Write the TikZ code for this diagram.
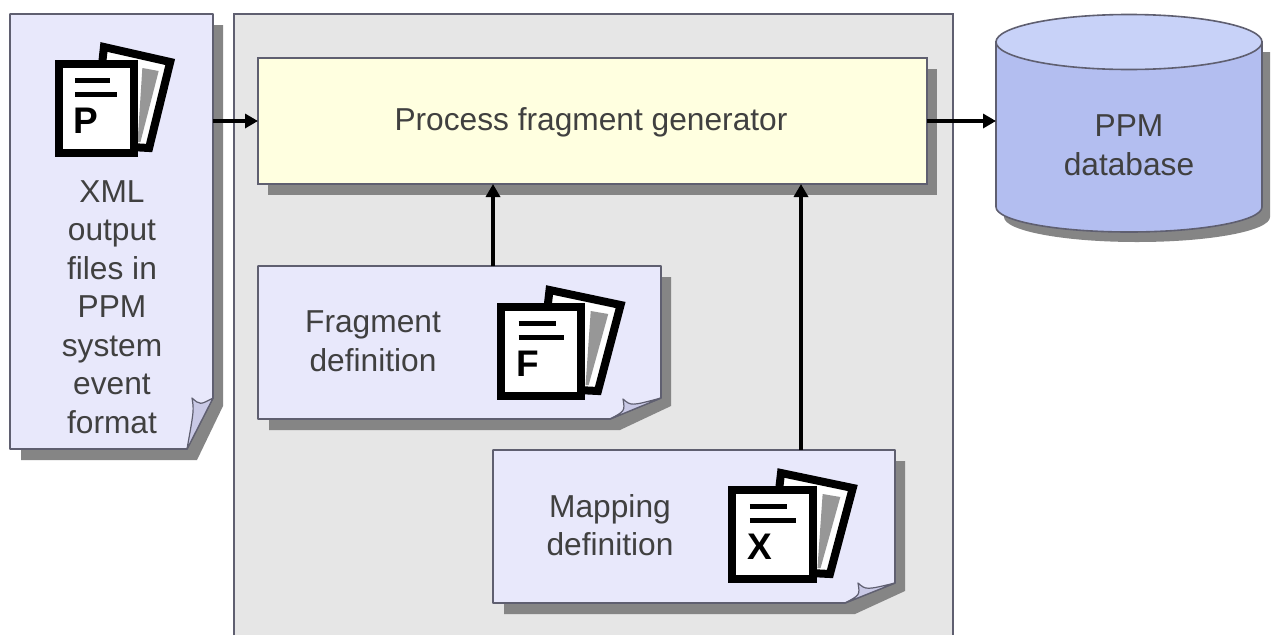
\documentclass[tikz,border=0pt]{standalone}
\usepackage{fontspec}
\setmainfont{Liberation Sans}
\usetikzlibrary{arrows.meta}
\definecolor{panelgray}{HTML}{E6E6E6}
\definecolor{lav}{HTML}{E8E8FB}
\definecolor{flapc}{HTML}{C9C9E6}
\definecolor{shade}{HTML}{858585}
\definecolor{edge}{HTML}{5F5F70}
\definecolor{genfill}{HTML}{FFFFE0}
\definecolor{cylside}{HTML}{B3BEF0}
\definecolor{cyltop}{HTML}{C8D2F8}
\definecolor{txt}{HTML}{404040}
\tikzset{
  anchorbox/.style={draw=none,fill=none,inner sep=0pt,outer sep=0pt},
  label/.style={anchor=center,align=center,text=txt,inner sep=0pt,
    font=\fontsize{31.7}{38.5}\selectfont},
  flow/.style={line width=3.7pt,-{Triangle[length=13pt,width=14pt]},black},
  paper/.style={fill=lav,draw=edge,line width=1.6pt,line join=round},
  flap/.style={fill=flapc,draw=edge,line width=1.2pt,line join=round},
  shadowfill/.style={fill=shade,draw=none},
  iconline/.style={black,line width=5pt},
  iconframe/.style={draw=black,line width=8pt,line join=miter}
}
% note paper: x1,y1,x2,y2, fold x, fold y, flap tip x, flap tip y
\newcommand{\notepaper}[8]{%
  \fill[shadowfill] (#1+11,#2+11) -- (#3+10,#2+11) -- (#3+10,#6+8) -- (#5+10,#4+11) -- (#1+11,#4+11) -- cycle;
  \path[paper] (#1,#2) -- (#3,#2) -- (#3,#6) -- (#5,#4) -- (#1,#4) -- cycle;
  \path[flap] (#5,#4) .. controls (#7+2,#8+12) .. (#7,#8) .. controls (#7+8,#8+7) .. (#3,#6) -- cycle;
}
% document icon: left, top of front page, horizontal scale, vertical scale, letter
\newcommand{\docicon}[5]{%
  \begin{scope}[shift={(#1,#2)},xscale=#3,yscale=#4]
    \path[fill=white,iconframe] (51,-13) -- (120,2) -- (98,88) -- (40,85) -- cycle;
    \fill[shade!85] (91,8) -- (108,11) -- (89,82) -- (86,82) -- cycle;
    \path[fill=white,iconframe] (4,4) -- (82,4) -- (82,93) -- (4,93) -- cycle;
    \draw[iconline] (21,20) -- (57,20);
    \draw[iconline] (21,34) -- (65,34);
    \node[anchor=base west,inner sep=0pt,font=\fontsize{37}{37}\selectfont\bfseries,text=black] (icon#5) at (19,73) {#5};
  \end{scope}}
\begin{document}
\begin{tikzpicture}[x=1pt,y=-1pt]
\useasboundingbox (0,0) rectangle (1271,635);
\fill[white] (0,0) rectangle (1271,635);

% main panel (runs off the bottom)
\path[fill=panelgray] (234,14) rectangle (953,635);
\draw[edge,line width=1.6pt] (234,635) -- (234,14) -- (953,14) -- (953,635);

% generator
\fill[shadowfill] (268,69) rectangle (937,195);
\node[anchor=north west,draw=edge,fill=genfill,line width=1.6pt,inner sep=0pt,outer sep=0pt,
  minimum width=669pt,minimum height=126pt] (gen) at (258,58) {};
\node[label] (gentext) at (591,122) {Process fragment generator};

% left document
\notepaper{10}{14}{213}{449}{187}{398}{192}{398}
\node[anchorbox,anchor=north west,minimum width=203pt,minimum height=435pt] (left) at (10,14) {};
\docicon{55}{60}{0.96}{1}{P}
\node[label] (lefttext) at (112,307) {XML\\output\\files in\\PPM\\system\\event\\format};

% fragment definition
\notepaper{258}{266}{661}{419}{610}{398}{623}{399}
\node[anchorbox,anchor=north west,minimum width=403pt,minimum height=153pt] (frag) at (258,266) {};
\docicon{497}{303}{1.03}{1}{F}
\node[label] (fragtext) at (373,341) {Fragment\\definition};

% mapping definition
\notepaper{493}{450}{895}{603}{845}{583}{858}{583}
\node[anchorbox,anchor=north west,minimum width=402pt,minimum height=153pt] (map) at (493,450) {};
\docicon{728}{486}{1.04}{1}{X}
\node[label] (maptext) at (610,525) {Mapping\\definition};

% database
\fill[shadowfill] (1004,52) -- (1270,52) -- (1270,217) arc[start angle=0,end angle=180,x radius=133,y radius=25] -- cycle;
\path[fill=cylside,draw=edge,line width=1.6pt] (996,42) -- (996,207) arc[start angle=180,end angle=0,x radius=133,y radius=25] -- (1262,42) -- cycle;
\path[fill=cyltop,draw=edge,line width=1.6pt] (1129,42) ellipse[x radius=133,y radius=27.5];
\node[anchorbox,anchor=north west,minimum width=266pt,minimum height=218pt] (db) at (996,14) {};
\node[label] (dbtext) at (1129,145) {PPM\\database};

% connectors
\coordinate (fragout) at (493,266);
\coordinate (mapout) at (801,450);
\draw[flow] (left.east |- gen.west) -- (gen.west);
\draw[flow] (gen.east) -- (db.west |- gen.east);
\draw[flow] (fragout) -- (fragout |- gen.south);
\draw[flow] (mapout) -- (mapout |- gen.south);
\end{tikzpicture}
\end{document}
